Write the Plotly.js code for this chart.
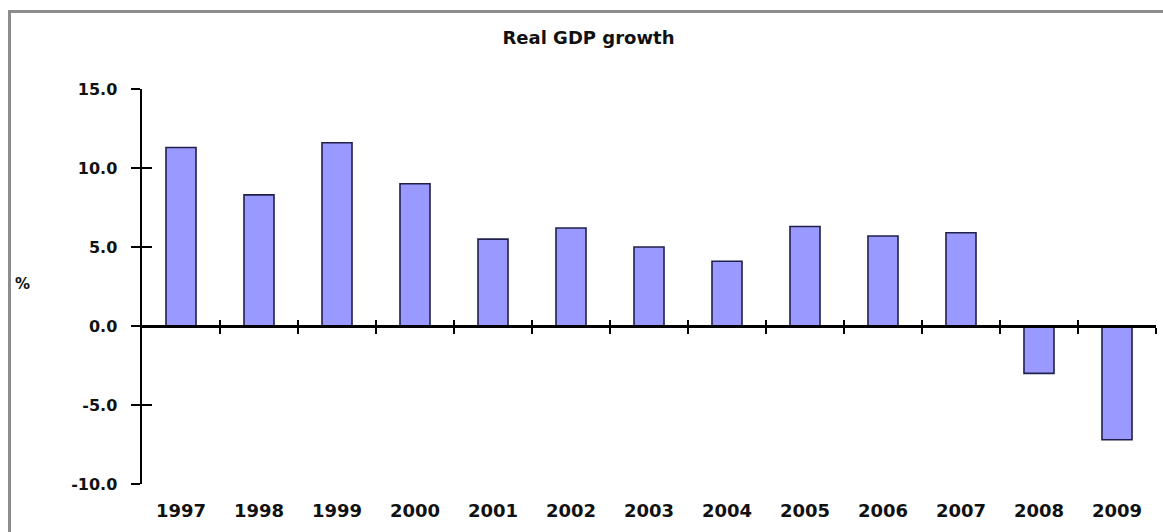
<!DOCTYPE html>
<html>
<head>
<meta charset="utf-8">
<script src="https://cdn.plot.ly/plotly-3.0.1.min.js"></script>
<style>
  html, body { margin: 0; padding: 0; background: #ffffff; overflow: hidden; }
  #frame { position: absolute; left: 8px; top: 10px; width: 1200px; height: 600px;
           border: 3px solid #8c8c8c; box-sizing: border-box; pointer-events: none; }
  #chart { position: absolute; left: 0; top: 0; width: 1163px; height: 532px; }
</style>
</head>
<body>
<div id="chart"></div>
<div id="frame"></div>
<script>
// ---- data ----
const years = ["1997","1998","1999","2000","2001","2002","2003","2004","2005","2006","2007","2008","2009"];
const growth = [11.3, 8.3, 11.6, 9.0, 5.5, 6.2, 5.0, 4.1, 6.3, 5.7, 5.9, -3.0, -7.2];
const yTicks = [-10, -5, 0, 5, 10, 15];
const yTickLabels = ["-10.0", "-5.0", "0.0", "5.0", "10.0", "15.0"];
const chartTitle = "Real GDP growth";
const yUnit = "%";

const boundaries = years.map((_, i) => i + 0.5);
const yRange = [-10, 15];
const zeroPos = (0 - yRange[0]) / (yRange[1] - yRange[0]);

const fontFam = "DejaVu Sans, Verdana, sans-serif";

const bars = {
  type: "bar",
  x: years,
  y: growth,
  marker: { color: "#9999ff", line: { color: "#20204a", width: 1.6 } },
  hoverinfo: "x+y"
};

// empty carriers so the overlaid tick-only axes are drawn
const carrierX2 = { type: "scatter", mode: "lines", x: [], y: [], xaxis: "x2", yaxis: "y", hoverinfo: "skip", showlegend: false };
const carrierX3 = { type: "scatter", mode: "lines", x: [], y: [], xaxis: "x3", yaxis: "y", hoverinfo: "skip", showlegend: false };
const carrierY2 = { type: "scatter", mode: "lines", x: [], y: [], xaxis: "x", yaxis: "y2", hoverinfo: "skip", showlegend: false };

const layout = {
  width: 1163,
  height: 532,
  margin: { l: 142, r: 7, t: 89, b: 48 },
  paper_bgcolor: "rgba(0,0,0,0)",
  plot_bgcolor: "rgba(0,0,0,0)",
  showlegend: false,
  bargap: 0.615,
  title: {
    text: "<b>" + chartTitle + "</b>",
    font: { family: fontFam, size: 18, color: "#111111" },
    xref: "container", x: 0.506, xanchor: "center",
    yref: "container", y: 0.929, yanchor: "middle"
  },
  xaxis: {
    type: "category",
    showline: false, showgrid: false, zeroline: false,
    ticks: "", ticklabelstandoff: 14,
    tickfont: { family: fontFam, size: 18, color: "#111111", weight: "bold" },
    fixedrange: true
  },
  xaxis2: {
    overlaying: "x", anchor: "free", position: zeroPos,
    type: "linear", range: [-0.5, 12.5],
    showline: true, linecolor: "#000000", linewidth: 2.5,
    showgrid: false, zeroline: false,
    tickmode: "array", tickvals: boundaries,
    ticks: "outside", ticklen: 6, tickwidth: 2.5, tickcolor: "#000000",
    showticklabels: false, fixedrange: true
  },
  xaxis3: {
    overlaying: "x", anchor: "free", position: zeroPos,
    type: "linear", range: [-0.5, 12.5],
    showline: false, showgrid: false, zeroline: false,
    tickmode: "array", tickvals: boundaries,
    ticks: "inside", ticklen: 6, tickwidth: 2.5, tickcolor: "#000000",
    showticklabels: false, fixedrange: true
  },
  yaxis: {
    range: yRange,
    tickmode: "array", tickvals: yTicks, ticktext: yTickLabels,
    showline: true, linecolor: "#000000", linewidth: 2.5,
    showgrid: false, zeroline: false,
    ticks: "outside", ticklen: 9, tickwidth: 2.5, tickcolor: "#000000",
    ticklabelstandoff: 10,
    tickfont: { family: fontFam, size: 16, color: "#111111", weight: "bold" },
    fixedrange: true
  },
  yaxis2: {
    overlaying: "y", anchor: "x", side: "left",
    range: yRange,
    tickmode: "array", tickvals: yTicks,
    showline: false, showgrid: false, zeroline: false,
    ticks: "inside", ticklen: 10, tickwidth: 2.5, tickcolor: "#000000",
    showticklabels: false, fixedrange: true
  },
  annotations: [{
    text: "<b>" + yUnit + "</b>",
    xref: "paper", yref: "paper", x: -0.118, y: 0.507,
    xanchor: "center", yanchor: "middle", showarrow: false,
    font: { family: fontFam, size: 15, color: "#111111" }
  }]
};

Plotly.newPlot("chart", [carrierX2, carrierX3, carrierY2, bars], layout, { displayModeBar: false, staticPlot: true });
</script>
</body>
</html>
